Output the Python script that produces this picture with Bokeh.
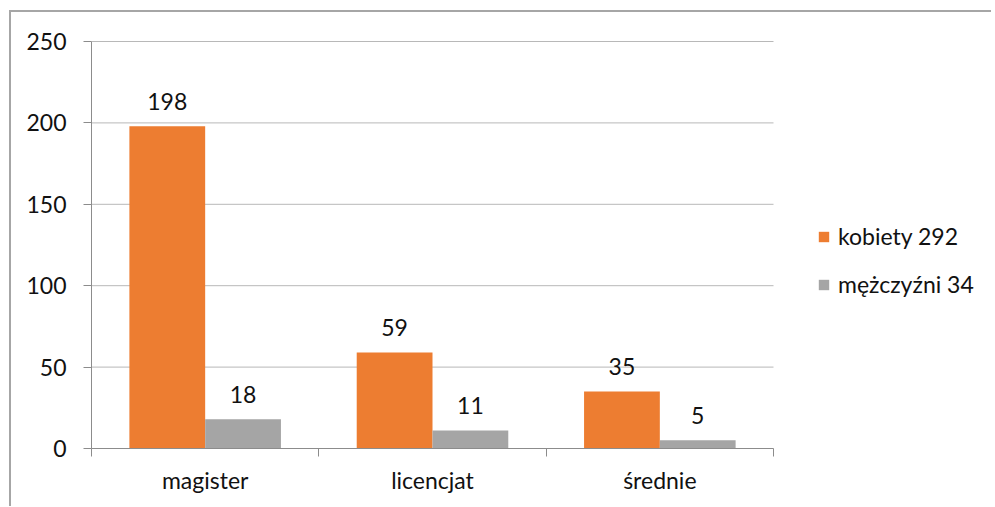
from bokeh.plotting import figure
from bokeh.models import (ColumnDataSource, FixedTicker, Legend, LegendItem, Range1d)
from bokeh.core.properties import value
from bokeh.embed import file_html
from bokeh.resources import INLINE

categories = ["magister", "licencjat", "średnie"]
kobiety = [198, 59, 35]
mezczyzni = [18, 11, 5]
series_names = ["kobiety 292", "mężczyźni 34"]
y_ticks = [0, 50, 100, 150, 200, 250]

FONT = "Lato"
FS = "23px"
ORANGE = "#ED7D31"
GRAY = "#A5A5A5"
TXT = "#111111"
AX = "#8C8C8C"

n = len(categories)
idx = list(range(n))
src_k = ColumnDataSource(dict(x=[i + 1/3 for i in idx], top=kobiety,
                              lab=[str(v) for v in kobiety]))
src_m = ColumnDataSource(dict(x=[i + 2/3 for i in idx], top=mezczyzni,
                              lab=[str(v) for v in mezczyzni]))
grid_src = ColumnDataSource(dict(x0=[0] * len(y_ticks), x1=[n] * len(y_ticks),
                                 y=y_ticks))

# chart area spans 682 px for the 3 categories; frame extends further right for the legend
FRAME_W = 894
FRAME_H = 409
Y_MAX = y_ticks[-1]
p = figure(frame_width=FRAME_W, frame_height=FRAME_H, output_backend="svg",
           toolbar_location=None,
           x_range=Range1d(0, n * FRAME_W / 682),
           y_range=Range1d(0, Y_MAX * FRAME_H / 407))
p.min_border_left = 80
p.min_border_right = 6
p.min_border_top = 27
p.min_border_bottom = 58
p.outline_line_color = None
p.background_fill_color = "white"
p.border_fill_color = "white"
p.margin = (10, 0, 0, 9)
p.styles = {"border-left": "2px solid #A6A6A6", "border-top": "2px solid #A6A6A6"}

# horizontal gridlines limited to the category area
p.segment(x0="x0", x1="x1", y0="y", y1="y", source=grid_src,
          line_color="#B8B8B8", line_width=1)

r_k = p.vbar(x="x", top="top", width=1/3, bottom=0, source=src_k,
             fill_color=ORANGE, line_color=None)
r_m = p.vbar(x="x", top="top", width=1/3, bottom=0, source=src_m,
             fill_color=GRAY, line_color=None)

for src in (src_k, src_m):
    p.text(x="x", y="top", text="lab", source=src, text_align="center",
           text_baseline="alphabetic", y_offset=-25,
           text_font=value(FONT), text_font_size=FS, text_color=TXT)

# y axis
p.yaxis.ticker = FixedTicker(ticks=y_ticks)
p.yaxis.bounds = (0, Y_MAX)
p.yaxis.axis_line_color = AX
p.yaxis.major_tick_line_color = AX
p.yaxis.major_tick_out = 8
p.yaxis.major_tick_in = 0
p.yaxis.minor_tick_line_color = None
p.yaxis.major_label_standoff = 17
p.yaxis.major_label_text_font = FONT
p.yaxis.major_label_text_font_size = FS
p.yaxis.major_label_text_color = TXT

# x axis: labels at category centres, ticks at category boundaries
centers = [i + 0.5 for i in idx]
p.xaxis.bounds = (0, n)
p.xaxis.ticker = FixedTicker(ticks=centers, minor_ticks=list(range(n + 1)))
p.xaxis.major_label_overrides = {c: name for c, name in zip(centers, categories)}
p.xaxis.axis_line_color = AX
p.xaxis.major_tick_line_color = None
p.xaxis.major_tick_out = 8
p.xaxis.major_tick_in = 0
p.xaxis.minor_tick_line_color = AX
p.xaxis.minor_tick_out = 8
p.xaxis.minor_tick_in = 0
p.xaxis.major_label_standoff = 9
p.xaxis.major_label_text_font = FONT
p.xaxis.major_label_text_font_size = FS
p.xaxis.major_label_text_color = TXT

p.xgrid.grid_line_color = None
p.ygrid.grid_line_color = None

legend = Legend(items=[LegendItem(label=series_names[0], renderers=[r_k]),
                       LegendItem(label=series_names[1], renderers=[r_m])],
                location=(726, 150), orientation="vertical",
                glyph_width=13, glyph_height=13, label_standoff=8,
                spacing=20, padding=0, margin=0,
                border_line_color=None, background_fill_alpha=0,
                label_text_font=FONT, label_text_font_size=FS,
                label_text_color=TXT)
p.add_layout(legend, "center")

open("out.html", "w").write(file_html(p, INLINE))
